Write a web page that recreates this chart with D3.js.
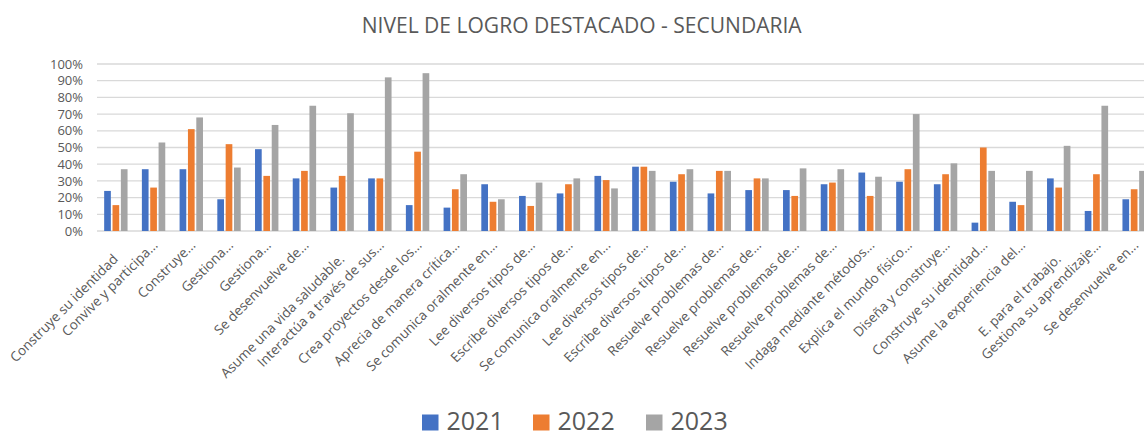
<!DOCTYPE html>
<html>
<head>
<meta charset="utf-8">
<script src="https://cdn.jsdelivr.net/npm/d3@7"></script>
<style>
  body { margin: 0; background: #fff; }
  text { font-family: "Open Sans", sans-serif; fill: #595959; }
</style>
</head>
<body>
<div id="chart"></div>
<script>
// competencias (eje x)
const categories = [
    "Construye su identidad", "Convive y participa...", "Construye...", "Gestiona...",
    "Gestiona...", "Se desenvuelve de...", "Asume una vida saludable.", "Interactúa a través de sus...",
    "Crea proyectos desde los...", "Aprecia de manera crítica...", "Se comunica oralmente en...", "Lee diversos tipos de...",
    "Escribe diversos tipos de...", "Se comunica oralmente en...", "Lee diversos tipos de...", "Escribe diversos tipos de...",
    "Resuelve problemas de...", "Resuelve problemas de...", "Resuelve problemas de...", "Resuelve problemas de...",
    "Indaga mediante métodos...", "Explica el mundo físico...", "Diseña y construye...", "Construye su identidad...",
    "Asume la experiencia del...", "E. para el trabajo.", "Gestiona su aprendizaje...", "Se desenvuelve en..."
];
const years = ["2021", "2022", "2023"];

// % de estudiantes en nivel destacado
const v2021 = [24, 37, 37, 19, 49, 31.5, 26, 31.5, 15.5, 14, 28, 21, 22.5, 33, 38.5, 29.5, 22.5, 24.5, 24.5, 28, 35, 29.5, 28, 5, 17.5, 31.5, 12, 19];
const v2022 = [15.5, 26, 61, 52, 33, 36, 33, 31.5, 47.5, 25, 17.5, 15, 28, 30.5, 38.5, 34, 36, 31.5, 21, 29, 21, 37, 34, 50, 15.5, 26, 34, 25];
const v2023 = [37, 53, 68, 38, 63.5, 75, 70.5, 92, 94.5, 34, 19, 29, 31.5, 25.5, 36, 37, 36, 31.5, 37.5, 37, 32.5, 70, 40.5, 36, 36, 51, 75, 36];

const yTicks = [0, 10, 20, 30, 40, 50, 60, 70, 80, 90, 100];

const seriesValues = {"2021": v2021, "2022": v2022, "2023": v2023};
const colors = {"2021": "#4472C4", "2022": "#ED7D31", "2023": "#A5A5A5"};

const width = 1144, height = 437;
const plot = {left: 97, right: 1153, top: 64, bottom: 231};

const svg = d3.select("#chart").append("svg")
    .attr("width", width)
    .attr("height", height);

const x0 = d3.scaleBand()
    .domain(d3.range(categories.length))
    .range([plot.left, plot.right])
    .paddingInner(0.38)
    .paddingOuter(0.19);

const x1 = d3.scaleBand()
    .domain(years)
    .range([0, x0.bandwidth()])
    .paddingInner(0.2);

const y = d3.scaleLinear()
    .domain([0, 100])
    .range([plot.bottom, plot.top]);

// gridlines
svg.append("g")
    .selectAll("line")
    .data(yTicks)
    .enter().append("line")
    .attr("x1", plot.left)
    .attr("x2", width)
    .attr("y1", d => y(d))
    .attr("y2", d => y(d))
    .attr("stroke", "#D9D9D9")
    .attr("stroke-width", 1.3);

// y axis labels
svg.append("g")
    .selectAll("text")
    .data(yTicks)
    .enter().append("text")
    .attr("x", 83)
    .attr("y", d => y(d))
    .attr("dy", "0.36em")
    .attr("text-anchor", "end")
    .style("font-size", "13px")
    .text(d => d + "%");

// bars
const groups = svg.append("g")
    .selectAll("g")
    .data(categories.map((c, i) => i))
    .enter().append("g")
    .attr("transform", i => `translate(${x0(i)},0)`);

groups.selectAll("rect")
    .data(i => years.map(yr => ({year: yr, value: seriesValues[yr][i]})))
    .enter().append("rect")
    .attr("x", d => x1(d.year))
    .attr("width", x1.bandwidth())
    .attr("y", d => y(d.value))
    .attr("height", d => y(0) - y(d.value))
    .attr("fill", d => colors[d.year]);

// x axis labels (rotated); untruncated ones sit a bit lower, like in Excel
svg.append("g")
    .selectAll("text")
    .data(categories)
    .enter().append("text")
    .attr("transform", (d, i) => {
        const cx = x0(i) + x0.bandwidth() / 2;
        const full = !d.endsWith("...");
        return `translate(${cx + (full ? 3 : 5)},${full ? 260 : 246}) rotate(-45)`;
    })
    .attr("text-anchor", "end")
    .style("font-size", "13.5px")
    .text(d => d);

// title
svg.append("text")
    .attr("x", 581.7)
    .attr("y", 32.5)
    .attr("text-anchor", "middle")
    .attr("textLength", 440)
    .attr("lengthAdjust", "spacingAndGlyphs")
    .style("font-size", "22px")
    .text("NIVEL DE LOGRO DESTACADO - SECUNDARIA");

// legend
const legendX = [422, 533, 646];
const legend = svg.append("g")
    .selectAll("g")
    .data(years)
    .enter().append("g")
    .attr("transform", (d, i) => `translate(${legendX[i]},414.5)`);

legend.append("rect")
    .attr("width", 16.5)
    .attr("height", 16)
    .attr("fill", d => colors[d]);

legend.append("text")
    .attr("x", 24.5)
    .attr("y", 15)
    .style("font-size", "25px")
    .text(d => d);
</script>
</body>
</html>
